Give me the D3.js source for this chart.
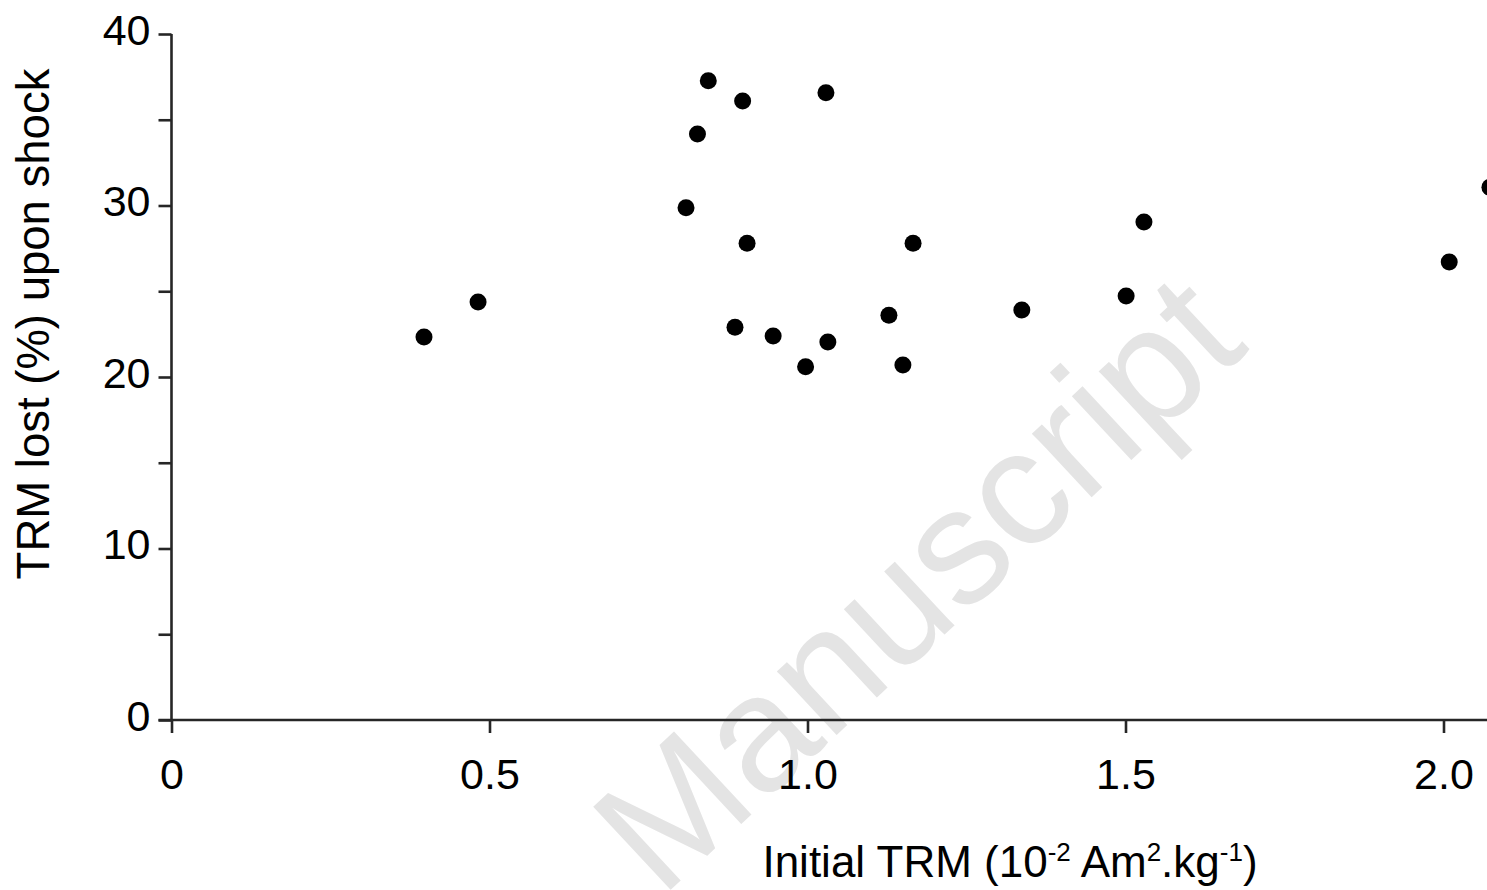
<!DOCTYPE html>
<html>
<head>
<meta charset="utf-8">
<script src="https://cdn.jsdelivr.net/npm/d3@7"></script>
<style>
  html, body { margin: 0; padding: 0; background: #fff; }
  svg { display: block; }
  text { font-family: "Liberation Sans", Arial, sans-serif; }
</style>
</head>
<body>
<svg id="chart" width="1487" height="890"></svg>
<script>
// ---- data ----
const initialTRM = [0.397, 0.482, 0.809, 0.827, 0.844, 0.898, 0.905, 0.886, 0.946, 0.997,
                    1.032, 1.029, 1.128, 1.166, 1.150, 1.337, 1.501, 1.529, 2.009, 2.073];
const trmLost    = [22.33, 24.37, 29.87, 34.17, 37.28, 36.09, 27.80, 22.90, 22.39, 20.60,
                    22.04, 36.58, 23.60, 27.80, 20.70, 23.91, 24.72, 29.04, 26.71, 31.07];
const xTickValues = [0, 0.5, 1.0, 1.5, 2.0];
const xTickLabels = ["0", "0.5", "1.0", "1.5", "2.0"];
const yTickValues = [0, 5, 10, 15, 20, 25, 30, 35, 40];
const yTickLabels = ["0", "", "10", "", "20", "", "30", "", "40"];
const xTitle = ["Initial TRM (10", "-2", " Am", "2", ".kg", "-1", ")"];
const yTitle = "TRM lost (%) upon shock";
const watermark = "Manuscript";

// ---- layout ----
const svg = d3.select("#chart");
const W = 1487, H = 890;
const x0 = 171.5, y0 = 720, yTop = 34;
const pxPerX = 636;

const x = d3.scaleLinear().domain([0, 2.2]).range([x0, x0 + pxPerX * 2.2]);
const y = d3.scaleLinear().domain([0, 40]).range([y0, yTop]);

const axisColor = "#262626";

// watermark (behind everything)
svg.append("text")
  .attr("transform", "translate(926,592) rotate(-43)")
  .attr("text-anchor", "middle")
  .attr("dominant-baseline", "middle")
  .attr("font-size", 165)
  .attr("fill", "#e4e4e4")
  .text(watermark);

// x axis
const xAxis = d3.axisBottom(x)
  .tickValues(xTickValues)
  .tickFormat((d, i) => xTickLabels[i])
  .tickSize(13)
  .tickSizeOuter(0)
  .tickPadding(25);
const gx = svg.append("g").attr("transform", `translate(0,${y0})`).call(xAxis);
gx.select(".domain").attr("stroke", axisColor).attr("stroke-width", 2.6)
  .attr("d", `M${x0 - 13},0H${W + 20}`);
gx.selectAll(".tick line").attr("stroke", axisColor).attr("stroke-width", 2.6);
gx.selectAll(".tick text").attr("font-size", 43).attr("fill", "#000")
  .attr("font-family", "Liberation Sans, Arial, sans-serif");

// y axis
const yAxis = d3.axisLeft(y)
  .tickValues(yTickValues)
  .tickFormat((d, i) => yTickLabels[i])
  .tickSize(13)
  .tickSizeOuter(0)
  .tickPadding(8);
const gy = svg.append("g").attr("transform", `translate(${x0},0)`).call(yAxis);
gy.select(".domain").attr("stroke", axisColor).attr("stroke-width", 2.6)
  .attr("d", `M0,${yTop}V${y0}`);
gy.selectAll(".tick text").attr("font-size", 43).attr("fill", "#000")
  .attr("dy", "0.24em")
  .attr("font-family", "Liberation Sans, Arial, sans-serif");
gy.selectAll(".tick line").attr("stroke", axisColor).attr("stroke-width", 2.6);

// points
svg.append("g").selectAll("circle")
  .data(initialTRM.map((v, i) => [v, trmLost[i]]))
  .join("circle")
  .attr("cx", d => x(d[0]))
  .attr("cy", d => y(d[1]))
  .attr("r", 8.5)
  .attr("fill", "#000");

// x title
const xt = svg.append("text")
  .attr("x", 1010).attr("y", 877)
  .attr("text-anchor", "middle")
  .attr("font-size", 44)
  .attr("fill", "#000");
xTitle.forEach((s, i) => {
  const sup = i % 2 === 1;
  xt.append("tspan")
    .attr("font-size", sup ? 26 : 44)
    .attr("baseline-shift", sup ? "60%" : null)
    .text(s);
});

// y title
svg.append("text")
  .attr("transform", `translate(49,324) rotate(-90)`)
  .attr("text-anchor", "middle")
  .attr("font-size", 45.5)
  .attr("fill", "#000")
  .text(yTitle);
</script>
</body>
</html>
